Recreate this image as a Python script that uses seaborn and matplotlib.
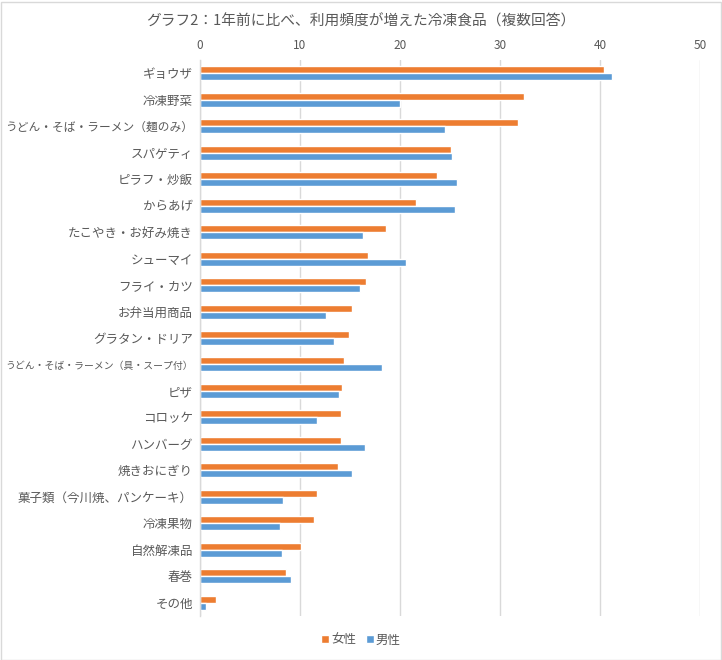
import matplotlib
matplotlib.use("Agg")
import matplotlib.pyplot as plt
import seaborn as sns
import pandas as pd
from matplotlib.patches import Rectangle

# data (%)
categories = [
    "ギョウザ", "冷凍野菜", "うどん・そば・ラーメン（麺のみ）", "スパゲティ",
    "ピラフ・炒飯", "からあげ", "たこやき・お好み焼き", "シューマイ",
    "フライ・カツ", "お弁当用商品", "グラタン・ドリア",
    "うどん・そば・ラーメン（具・スープ付）", "ピザ", "コロッケ", "ハンバーグ",
    "焼きおにぎり", "菓子類（今川焼、パンケーキ）", "冷凍果物", "自然解凍品",
    "春巻", "その他",
]
female = [40.4, 32.4, 31.8, 25.1, 23.7, 21.6, 18.6, 16.8, 16.6, 15.2, 14.9,
          14.4, 14.2, 14.1, 14.1, 13.8, 11.7, 11.4, 10.1, 8.6, 1.6]
male = [41.2, 20.0, 24.5, 25.2, 25.7, 25.5, 16.3, 20.6, 16.0, 12.6, 13.4,
        18.2, 13.9, 11.7, 16.5, 15.2, 8.3, 8.0, 8.2, 9.1, 0.6]
series = ["女性", "男性"]
colors = ["#ED7D31", "#5B9BD5"]
x_ticks = [0, 10, 20, 30, 40, 50]

df = pd.DataFrame({
    "item": categories * 2,
    "value": female + male,
    "sex": [series[0]] * len(categories) + [series[1]] * len(categories),
})

sns.set_style("white")
plt.rcParams["font.family"] = ["Noto Sans CJK JP", "DejaVu Sans"]
text_color = "#595959"
grid_color = "#D9D9D9"

fig = plt.figure(figsize=(7.22, 6.6), dpi=100)
ax = fig.add_axes([200 / 722, 1 - 616 / 660, 500 / 722, 556 / 660])

sns.barplot(data=df, x="value", y="item", hue="sex", hue_order=series,
            palette=colors, orient="h", width=0.53, saturation=1,
            ax=ax, legend=True)

ax.set_xlim(0, 50)
ax.set_xticks(x_ticks)
ax.xaxis.tick_top()
ax.tick_params(axis="x", length=0, labelsize=8.5, colors=text_color, pad=6)
ax.tick_params(axis="y", length=0, labelsize=9, colors=text_color, pad=5)
ax.set_xlabel("")
ax.set_ylabel("")
ax.grid(axis="x", color=grid_color, linewidth=1)
ax.set_axisbelow(True)
for side in ["top", "right", "bottom"]:
    ax.spines[side].set_visible(False)
ax.spines["left"].set_color(grid_color)
ax.spines["left"].set_linewidth(1)

leg = ax.legend(loc="center", bbox_to_anchor=(361 / 722, 20 / 660),
                bbox_transform=fig.transFigure, ncol=2, frameon=False,
                fontsize=9, handlelength=0.6, handleheight=0.6,
                handletextpad=0.2, columnspacing=0.8)
for t in leg.get_texts():
    t.set_color(text_color)

fig.text(361 / 722, 1 - 21 / 660,
         "グラフ2：1年前に比べ、利用頻度が増えた冷凍食品（複数回答）",
         ha="center", va="center", fontsize=10.6, color=text_color)

# shrink the long category labels so they fit left of the axis
fig.canvas.draw()
renderer = fig.canvas.get_renderer()
for lab in ax.get_yticklabels():
    bb = lab.get_window_extent(renderer)
    if bb.x0 < 6:
        lab.set_fontsize(lab.get_fontsize() * (bb.x1 - 6) / bb.width)

fig.patches.append(Rectangle((0.5 / 722, 0.5 / 660), 720 / 722, 658 / 660,
                             transform=fig.transFigure, fill=False,
                             edgecolor=grid_color, linewidth=1))

fig.savefig("out.png", dpi=100)
